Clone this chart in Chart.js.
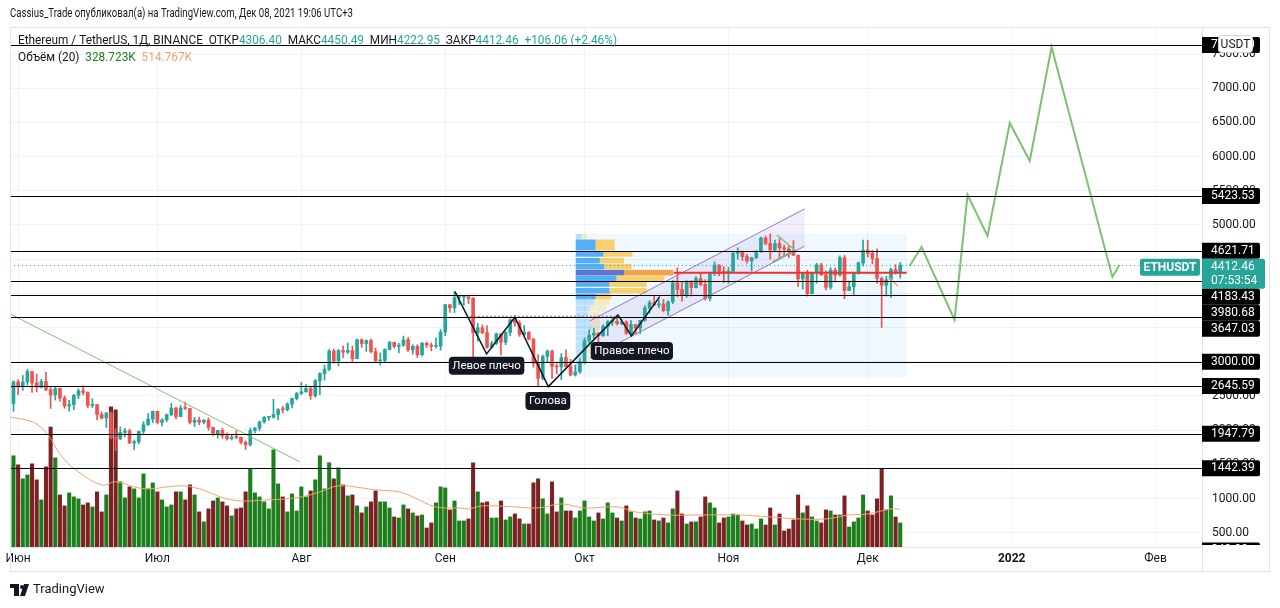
<!DOCTYPE html>
<html lang="ru">
<head>
<meta charset="UTF-8">
<title>ETHUSDT 1Д</title>
<script src="https://cdn.jsdelivr.net/npm/chart.js@4.4.0/dist/chart.umd.min.js"></script>
<style>
  html, body { margin: 0; padding: 0; background: #fff; }
  #wrap { width: 1280px; height: 608px; }
</style>
</head>
<body>
<div id="wrap"><canvas id="c" width="1280" height="608"></canvas></div>
<script>
// дни считаются от 1 июня 2021 (0), первая свеча — 31 мая (-1)
const firstDay = -1;
const firstOpen = 2387;

const closes = [
  2707,
  2634,2706,2856,2689,2630,2711,2593,2515,2608,2470,2354,2373,2508,2574,2550,2361,2372,2229,2178,2249,1888,1875,1967,1990,1812,1829,1982,2080,2160,2275,
  2113,2150,2225,2323,2198,2323,2317,2115,2146,2116,2147,2040,1940,1995,1917,1876,1898,1895,1820,1786,1995,2027,2123,2187,2190,2229,2300,2297,2382,2461,2536,
  2560,2610,2504,2724,2827,2890,3157,3012,3164,3140,3164,3045,3322,3266,3310,3148,3013,3018,3182,3285,3226,3242,3320,3172,3226,3101,3270,3244,3224,3228,3433,
  3834,3788,3938,3945,3950,3927,3426,3497,3426,3210,3266,3407,3285,3429,3612,3568,3398,3432,3329,2976,2757,3077,3155,2932,2925,3062,2930,2807,2852,3001,
  3308,3389,3417,3380,3518,3587,3592,3558,3578,3415,3545,3492,3606,3786,3866,3830,3846,3748,3877,4156,4055,3973,4169,4083,4217,4131,3925,4287,4414,4323,4288,
  4324,4586,4603,4537,4475,4520,4610,4808,4730,4635,4728,4667,4648,4623,4558,4211,4287,3995,4298,4414,4271,4088,4340,4269,4521,4041,4096,4294,4444,4632,
  4586,4511,4220,4119,4198,4347,4306.4,4412.46
];
const highs = [
  2720,
  2740,2800,2891,2858,2818,2743,2844,2622,2637,2620,2500,2437,2525,2605,2650,2560,2460,2376,2265,2260,2269,2020,2046,2027,2015,1857,1986,2125,2242,2280,
  2280,2165,2237,2390,2335,2360,2410,2320,2187,2190,2155,2180,2046,2000,2030,1960,1924,1990,1900,1843,2030,2040,2130,2200,2190,2450,2316,2350,2400,2470,2550,
  2700,2665,2630,2740,2840,2950,3180,3185,3180,3230,3275,3230,3330,3334,3320,3330,3200,3130,3190,3300,3285,3270,3375,3357,3250,3250,3285,3290,3275,3350,3470,
  3840,3840,4027,3972,3970,3970,3940,3560,3540,3530,3300,3420,3410,3440,3630,3680,3600,3530,3440,3346,3100,3100,3174,3170,2970,3120,3175,3036,2950,3045,
  3350,3470,3490,3430,3545,3600,3640,3670,3624,3600,3601,3547,3610,3820,3895,3969,3905,3910,3890,4188,4376,4168,4186,4190,4245,4295,4200,4298,4460,4420,4390,
  4380,4600,4665,4620,4570,4530,4630,4822,4838,4868,4780,4800,4705,4690,4770,4560,4295,4340,4300,4440,4440,4330,4376,4370,4550,4554,4180,4300,4460,4780,
  4778,4625,4650,4240,4250,4370,4420,4450.49
];
const lows = [
  2275,
  2520,2580,2660,2550,2560,2616,2578,2317,2440,2425,2320,2276,2300,2460,2520,2330,2330,2150,2160,2040,1870,1700,1860,1900,1803,1717,1800,1952,2066,2110,
  2091,2060,2120,2212,2165,2194,2300,2090,2050,2080,2090,2000,1920,1880,1880,1855,1855,1873,1800,1717,1765,1955,1993,2100,2143,2175,2150,2250,2280,2325,2440,
  2520,2555,2450,2480,2520,2730,2870,2980,2940,3060,3120,2990,3040,3210,3150,3130,2990,2950,2990,3170,3200,3130,3225,3150,3110,3060,3080,3210,3160,3200,3170,
  3380,3720,3720,3835,3830,3850,3000,3300,3407,3200,3200,3250,3100,3250,3380,3520,3370,3380,3320,2920,2650,2736,3000,2753,2820,2740,2925,2793,2790,2830,
  2970,3265,3344,3280,3370,3380,3530,3540,3540,3400,3390,3400,3410,3590,3712,3815,3790,3730,3680,3850,3951,3886,3940,3960,4080,4110,3900,3890,4260,4260,4160,
  4150,4320,4500,4480,4440,4330,4510,4600,4710,4500,4620,4520,4560,4520,4550,4100,4060,3960,3990,4150,4260,4050,4060,4165,4250,3920,4040,3970,4280,4400,
  4530,4430,4150,3500,3960,3940,4280,4222.95
];
// объём, тыс. ETH
const volumes = [
  1247,
  1123,932,986,1137,918,644,1096,1640,1219,712,562,740,685,658,575,603,548,754,480,712,1918,1877,891,671,822,795,671,1000,795,
  877,754,644,548,575,754,754,644,849,712,480,343,521,630,671,617,562,425,521,534,754,1069,740,685,617,521,1329,863,685,480,726,
  493,822,685,767,918,1247,795,1151,932,1082,849,699,712,562,466,548,617,767,617,617,534,411,397,575,521,466,425,438,260,329,
  603,822,808,507,630,356,356,384,1151,754,603,617,397,397,630,370,411,452,384,315,315,877,932,658,452,891,480,671,493,493,397,
  493,630,411,356,466,384,603,466,397,356,562,480,397,384,480,493,370,356,397,329,521,767,452,315,343,343,411,685,603,534,329,
  397,411,452,438,356,301,315,247,384,301,534,301,452,219,247,370,712,466,562,411,356,329,507,493,438,438,699,274,343,
  397,712,493,438,658,1069,507,699,411,329
];
// MA(20) объёма
const volMaDays = [-2,3,5,7,8,10,13,18,21,25,28,35,39,46,54,61,65,69,74,77,82,85,90,95,97,100,107,112,117,122,129,133,140,147,155,162,168,174,179,183,188,190];
const volMaVals = [1781,1713,1630,1480,1370,1192,1028,849,891,822,795,836,795,644,644,685,754,836,808,781,754,685,548,534,521,562,548,534,589,534,548,480,438,438,438,411,384,384,438,452,521,515];

const monthDays = [0,30,61,92,122,153,183,214,245];
const monthLabels = ['Июн','Июл','Авг','Сен','Окт','Ноя','Дек','2022','Фев'];
const priceTicks = [500,1000,1500,2000,2500,3000,3500,4000,4500,5000,5500,6000,6500,7000,7500];

const levelValues = [7632, 5423.53, 4621.71, 4183.43, 3980.68, 3647.03, 3000, 2645.59, 1947.79, 1442.39, 240];
const lastPrice = 4412.46;
const countdown = '07:53:54';

// прогноз (зелёная ломаная)
const forecastDays = [192.0,194.6,201.7,204.5,208.8,213.6,217.9,222.6,235.7,237.2];
const forecastVals = [4400,4678,3611,5439,4839,6491,5936,7602,4240,4415];
// нисходящая линия тренда
const trendDays = [-1.7,60.7];
const trendVals = [3699,1535];
// голова и плечи
const hsDays = [94.1,100.9,107.0,114.2,129.2,132.1,138.2];
const hsVals = [4025,3114,3651,2636,3684,3377,3952];
const necklineDays = [97.3,129.2];
const necklineVal = 3665;
const hsLabelText = ['Левое плечо','Голова','Правое плечо'];
const hsLabelDays = [100.9,114.1,132.2];
const hsLabelVals = [2942,2427,3158];
// восходящий канал
const channelDays = [123.1,169.4];
const channelTop = [3596,5234];
const channelBottom = [3052,4690];
// мелкие линии внутри канала
const wedgeDays = [163.4,167.3,162.5];
const wedgeVals = [4854,4635,4459];
const smallDays = [187.4,189.5];
const smallVals = [4244,4108];
// профиль объёма фиксированного диапазона
const profileFrom = 120.1, profileTo = 191.4, profileHigh = 4868, profileLow = 2778;
const profilePrices = [4829,4747,4668,4576,4478,4390,4303,4220,4137,4039,3952,3864,3776,3684,3596,3509,3421,3333,3246,3158,3070,2982,2894];
const profileUp   = [1.3,4.3,4.3,6.0,5.2,6.2,10.5,8.8,7.3,7.3,4.3,3.9,3.0,2.6,3.0,3.4,3.0,2.6,2.6,2.2,1.7,1.3,0.9];
const profileDown = [1.1,4.1,4.1,6.2,5.2,5.8,10.5,10.3,8.0,8.0,3.4,3.4,3.7,2.6,2.2,1.7,1.7,1.3,1.3,1.1,0.9,0.6,0.4];
const pocIndex = 6, vaFrom = 1, vaTo = 10;
const pocLineFrom = 141.2;

const legendText = ['Ethereum / TetherUS, 1Д, BINANCE  ', 'ОТКР', '4306.40', '  МАКС', '4450.49', '  МИН', '4222.95', '  ЗАКР', '4412.46', '  +106.06 (+2.46%)'];
const volLegend = ['Объём (20)  ', '328.723K', '  514.767K'];
const headerText = 'Cassius_Trade опубликовал(а) на TradingView.com, Дек 08, 2021 19:06 UTC+3';

const priceMin = 291, priceMax = 7895, volMax = 7110;
const xMin = -1.75, xMax = 255;

const UP = '#26a69a', DOWN = '#ef5350';
const VUP = '#1c7f1c', VDOWN = '#7d2222';
const FONT = 'Roboto, "Noto Sans", sans-serif';
Chart.defaults.font.family = FONT;

const opens = closes.map((c, i) => i === 0 ? firstOpen : closes[i - 1]);
const days = closes.map((c, i) => firstDay + i);
const isUp = closes.map((c, i) => c >= opens[i]);

const tvPlugin = {
  id: 'tv',
  beforeDatasetsDraw(chart) {
    const {ctx, chartArea: a} = chart;
    const X = v => chart.scales.x.getPixelForValue(v);
    const Y = v => chart.scales.y.getPixelForValue(v);
    ctx.save();
    ctx.beginPath(); ctx.rect(a.left, a.top, a.right - a.left, a.bottom - a.top); ctx.clip();
    // профиль объёма
    ctx.fillStyle = 'rgba(33,150,243,0.07)';
    ctx.fillRect(X(profileFrom), Y(profileHigh), X(profileTo) - X(profileFrom), Y(profileLow) - Y(profileHigh));
    profilePrices.forEach((p, i) => {
      const inVA = i >= vaFrom && i <= vaTo;
      const yTop = Y(p + 40), h = Y(p - 40) - yTop;
      const x0 = X(profileFrom), x1 = X(profileFrom + profileUp[i]), x2 = X(profileFrom + profileUp[i] + profileDown[i]);
      ctx.fillStyle = i === pocIndex ? 'rgba(72,92,200,0.85)' : (inVA ? 'rgba(33,150,243,0.75)' : 'rgba(33,150,243,0.25)');
      ctx.fillRect(x0, yTop, x1 - x0, h);
      ctx.fillStyle = i === pocIndex ? 'rgba(245,140,30,0.8)' : (inVA ? 'rgba(251,192,45,0.7)' : 'rgba(251,192,45,0.25)');
      ctx.fillRect(x1, yTop, x2 - x1, h);
    });
    // заливка канала
    ctx.fillStyle = 'rgba(149,117,205,0.12)';
    ctx.beginPath();
    ctx.moveTo(X(channelDays[0]), Y(channelTop[0]));
    ctx.lineTo(X(channelDays[1]), Y(channelTop[1]));
    ctx.lineTo(X(channelDays[1]), Y(channelBottom[1]));
    ctx.lineTo(X(channelDays[0]), Y(channelBottom[0]));
    ctx.closePath(); ctx.fill();
    ctx.restore();
  },
  afterDatasetsDraw(chart) {
    const {ctx, chartArea: a} = chart;
    const X = v => chart.scales.x.getPixelForValue(v);
    const Y = v => chart.scales.y.getPixelForValue(v);
    ctx.save();
    ctx.beginPath(); ctx.rect(a.left, a.top, a.right - a.left, a.bottom - a.top); ctx.clip();
    // горизонтальные уровни
    ctx.strokeStyle = '#000'; ctx.lineWidth = 1;
    levelValues.forEach(v => {
      const y = Math.round(Y(v)) + 0.5;
      ctx.beginPath(); ctx.moveTo(a.left, y); ctx.lineTo(a.right, y); ctx.stroke();
    });
    // линия текущей цены
    ctx.strokeStyle = UP; ctx.setLineDash([1, 3]);
    let yp = Math.round(Y(lastPrice)) + 0.5;
    ctx.beginPath(); ctx.moveTo(a.left, yp); ctx.lineTo(a.right, yp); ctx.stroke();
    // линия шеи
    ctx.strokeStyle = '#787b86'; ctx.setLineDash([2, 2]);
    const yn = Y(necklineVal);
    ctx.beginPath(); ctx.moveTo(X(necklineDays[0]), yn); ctx.lineTo(X(necklineDays[1]), yn); ctx.stroke();
    ctx.setLineDash([]);
    // POC
    ctx.strokeStyle = '#f0302c'; ctx.lineWidth = 2;
    const yPoc = Y(profilePrices[pocIndex]);
    ctx.beginPath(); ctx.moveTo(X(pocLineFrom), yPoc); ctx.lineTo(X(profileTo), yPoc); ctx.stroke();
    // подписи фигуры
    ctx.font = '11.5px ' + FONT; ctx.textAlign = 'center'; ctx.textBaseline = 'middle';
    hsLabelText.forEach((t, i) => {
      const w = ctx.measureText(t).width + 7, h = 18;
      const cx = X(hsLabelDays[i]), cy = Y(hsLabelVals[i]);
      ctx.fillStyle = '#131722';
      ctx.beginPath(); ctx.roundRect(cx - w / 2, cy - h / 2, w, h, 4); ctx.fill();
      ctx.fillStyle = '#fff'; ctx.fillText(t, cx, cy + 0.5);
    });
    ctx.restore();
  },
  afterDraw(chart) {
    const {ctx, chartArea: a} = chart;
    const Y = v => chart.scales.y.getPixelForValue(v);
    ctx.save();
    // рамки
    ctx.strokeStyle = '#e0e3eb'; ctx.lineWidth = 1;
    ctx.strokeRect(10.5, 27.5, 1259, 544);
    ctx.beginPath(); ctx.moveTo(a.right + 0.5, a.bottom); ctx.lineTo(a.right + 0.5, 571); ctx.stroke();
    // заголовок и легенда
    const segs = (list, x, y, w, font) => {
      ctx.font = font; ctx.textAlign = 'left'; ctx.textBaseline = 'middle';
      const total = list.reduce((s, g) => s + ctx.measureText(g[0]).width, 0);
      ctx.save(); ctx.translate(x, y); ctx.scale(w / total, 1);
      let cx = 0;
      list.forEach(([t, c]) => { ctx.fillStyle = c; ctx.fillText(t, cx, 0); cx += ctx.measureText(t).width; });
      ctx.restore();
    };
    const dark = '#131722';
    segs([[headerText, dark]], 10, 14, 343, '13px ' + FONT);
    segs(legendText.map((t, i) => [t, (i === 0 || i % 2 === 1) && i !== 9 ? dark : UP]), 18, 41, 599, '13px ' + FONT);
    segs([[volLegend[0], dark], [volLegend[1], VUP], [volLegend[2], '#f5a26b']], 18, 58, 174, '13px ' + FONT);
    // метки уровней на шкале
    const items = levelValues.map(v => ({v, y: Y(v), h: 16, text: [v.toFixed(2)], bg: '#000', w: 58}));
    items.push({v: lastPrice, y: Y(lastPrice), h: 30, text: [lastPrice.toFixed(2), countdown], bg: UP, w: 63, last: true});
    items.sort((p, q) => p.y - q.y);
    let prevBottom = -1e9;
    ctx.font = '12px ' + FONT; ctx.textAlign = 'left'; ctx.textBaseline = 'middle';
    ctx.save();
    ctx.beginPath(); ctx.rect(a.right, a.top, 80, a.bottom - a.top - 2); ctx.clip();
    items.forEach(it => {
      const top = Math.max(it.y - it.h / 2, prevBottom);
      prevBottom = top + it.h;
      it.top = top;
      ctx.fillStyle = it.bg;
      ctx.beginPath(); ctx.roundRect(a.right, top, it.w, it.h, [0, 2, 2, 0]); ctx.fill();
      ctx.fillStyle = '#fff';
      it.text.forEach((t, k) => ctx.fillText(t, a.right + 9, top + 8 + k * 14.5));
    });
    ctx.restore();
    // ETHUSDT
    const li = items.find(it => it.last);
    ctx.fillStyle = UP;
    ctx.beginPath(); ctx.roundRect(a.right - 62, li.top, 60, 17, 2); ctx.fill();
    ctx.fillStyle = '#fff'; ctx.font = 'bold 12px ' + FONT; ctx.textAlign = 'center';
    ctx.fillText('ETHUSDT', a.right - 32, li.top + 9);
    // USDT
    ctx.fillStyle = '#fff'; ctx.strokeStyle = '#d1d4dc';
    ctx.beginPath(); ctx.roundRect(1218.5, 35.5, 34, 17, 3); ctx.fill(); ctx.stroke();
    ctx.fillStyle = dark; ctx.font = '12px ' + FONT;
    ctx.fillText('USDT', 1235.5, 44.5);
    // логотип
    ctx.fillStyle = dark;
    ctx.fillRect(10, 584, 9, 4); ctx.fillRect(14, 584, 5, 12);
    ctx.beginPath(); ctx.arc(22, 587, 2, 0, Math.PI * 2); ctx.fill();
    ctx.beginPath(); ctx.moveTo(24, 584); ctx.lineTo(29, 584); ctx.lineTo(25, 596); ctx.lineTo(20, 596); ctx.closePath(); ctx.fill();
    ctx.font = '13px ' + FONT; ctx.textAlign = 'left';
    ctx.fillText('TradingView', 33, 590);
    ctx.restore();
  }
};

const lineDs = (xs, ys, color, width, axis) => ({
  type: 'line', data: xs.map((x, i) => ({x, y: ys[i]})), borderColor: color, borderWidth: width,
  pointRadius: 0, fill: false, tension: 0, yAxisID: axis || 'y', order: 1
});

const maLine = lineDs(volMaDays, volMaVals, '#f5a26b', 1, 'yVol');
maLine.tension = 0.4; maLine.order = 8;

new Chart(document.getElementById('c'), {
  type: 'bar',
  data: {
    datasets: [
      {
        data: days.map((d, i) => ({x: d, y: volumes[i]})), yAxisID: 'yVol', order: 10,
        backgroundColor: isUp.map(u => u ? VUP : VDOWN), barThickness: 3.4, grouped: false
      },
      maLine,
      {
        data: days.map((d, i) => ({x: d, y: [Math.min(lows[i], opens[i], closes[i]), Math.max(highs[i], opens[i], closes[i])]})),
        yAxisID: 'y', order: 5, backgroundColor: isUp.map(u => u ? UP : DOWN), barThickness: 1, grouped: false
      },
      {
        data: days.map((d, i) => ({x: d, y: [opens[i], closes[i]]})),
        yAxisID: 'y', order: 4, backgroundColor: isUp.map(u => u ? UP : DOWN), barThickness: 3, minBarLength: 1, grouped: false
      },
      lineDs(trendDays, trendVals, '#7cc36f', 1),
      lineDs(forecastDays, forecastVals, '#7cc36f', 2),
      lineDs(hsDays, hsVals, '#131722', 1.5),
      lineDs(channelDays, channelTop, '#9575cd', 1),
      lineDs(channelDays, channelBottom, '#9575cd', 1),
      lineDs([wedgeDays[0], wedgeDays[1], wedgeDays[2]], wedgeVals, '#7cc36f', 1.5),
      lineDs(smallDays, smallVals, '#f4a18f', 1.5)
    ]
  },
  options: {
    responsive: false, animation: false, devicePixelRatio: 1, events: [],
    layout: {padding: {left: 10, top: 27, right: 10, bottom: 37}},
    plugins: {legend: {display: false}, tooltip: {enabled: false}},
    scales: {
      x: {
        type: 'linear', min: xMin, max: xMax, offset: false,
        afterBuildTicks: s => { s.ticks = monthDays.map(v => ({value: v})); },
        afterFit: s => { s.height = 24; },
        grid: {color: '#f0f3fa', drawTicks: false, offset: false},
        border: {color: '#e0e3eb'},
        ticks: {
          padding: 5, autoSkip: false, maxRotation: 0, color: '#131722',
          callback: v => monthLabels[monthDays.indexOf(v)],
          font: c => ({family: FONT, size: 12, weight: monthLabels[c.index] === '2022' ? 'bold' : 'normal'})
        }
      },
      y: {
        type: 'linear', position: 'right', min: priceMin, max: priceMax,
        afterBuildTicks: s => { s.ticks = priceTicks.map(v => ({value: v})); },
        afterFit: s => { s.width = 68; },
        grid: {color: '#f0f3fa', drawTicks: false},
        border: {color: '#e0e3eb'},
        ticks: {autoSkip: false, padding: 10, color: '#131722', font: {size: 12}, callback: v => v.toFixed(2)}
      },
      yVol: {type: 'linear', display: false, min: 0, max: volMax}
    }
  },
  plugins: [tvPlugin]
});
</script>
</body>
</html>
